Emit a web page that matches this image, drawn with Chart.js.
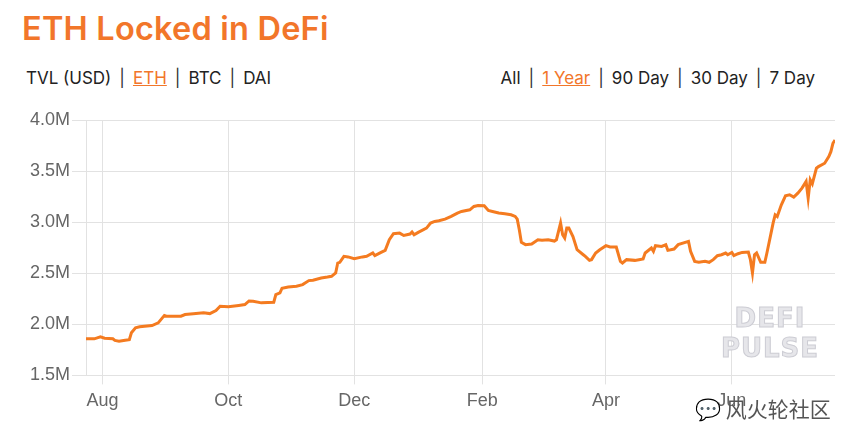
<!DOCTYPE html>
<html lang="en">
<head>
  <meta charset="UTF-8">
  <title>ETH Locked in DeFi</title>
  <style>
    html, body { margin: 0; padding: 0; background: #fff; }
    body { width: 858px; height: 429px; position: relative; overflow: hidden; font-family: Inter, "Noto Sans", sans-serif; }
    #chartBox { position: absolute; left: 0; top: 0; width: 858px; height: 429px; }
    h1 { position: absolute; left: 22px; top: 9px; margin: 0; font-size: 32.5px; font-weight: 600; color: #f2762a; letter-spacing: 0.2px; }
    .links { position: absolute; top: 68px; font-size: 17px; color: #222; white-space: nowrap; }
    .links .sep { color: #333; margin: 0 8px; }
    .links .on { color: #f2762a; text-decoration: underline; }
    #leftLinks { left: 26px; }
    #rightLinks { right: 43px; }
    .mark { position: absolute; left: 700px; width: 140px; text-align: center; font-family: "DejaVu Sans", sans-serif; font-weight: bold; font-size: 26px; color: #e6e6ea; -webkit-text-stroke: 1px #cdcdd4; letter-spacing: 1px; }
    #wechat { position: absolute; left: 695px; top: 393px; font-family: "Noto Sans CJK SC", sans-serif; font-size: 21px; color: #555; }
  </style>
</head>
<body>
  <h1>ETH Locked in DeFi</h1>
  <div class="links" id="leftLinks">TVL (USD)<span class="sep">|</span><span class="on">ETH</span><span class="sep">|</span>BTC<span class="sep">|</span>DAI</div>
  <div class="links" id="rightLinks">All<span class="sep">|</span><span class="on">1 Year</span><span class="sep">|</span>90 Day<span class="sep">|</span>30 Day<span class="sep">|</span>7 Day</div>

  <div id="chartBox"><canvas id="ethChart"></canvas></div>

  <div class="mark" style="top:303px;">DEFI</div>
  <div class="mark" style="top:333px;">PULSE</div>
  <div id="wechat">💬 风火轮社区</div>

  <script src="https://cdn.jsdelivr.net/npm/chart.js"></script>
  <script>
    // days counted from 1 Aug 2019
    const days = [-8, -4, -1, 1, 5, 6, 8, 11, 13, 14, 16, 18, 24, 27, 29, 30, 31, 38, 40, 44, 49, 52, 55,
      57, 61, 66, 69, 71, 73, 77, 83, 84, 86, 87, 90, 94, 97, 100, 102, 106, 109, 111, 113, 114, 115,
      117, 119, 122, 126, 128, 131, 132, 135, 137, 139, 141, 144, 146, 149, 150, 151, 153, 157, 159,
      161, 163, 166, 169, 172, 174, 178, 180, 182, 185, 187, 189, 192, 195, 198, 200, 201, 202, 203,
      205, 208, 211, 213, 216, 219, 220, 222, 223, 224, 225, 226, 228, 230, 233, 234, 236, 237, 239,
      241, 244, 246, 249, 251, 252, 254, 258, 260, 262, 263, 266, 267, 268, 271, 273, 274, 277, 279,
      284, 285, 287, 289, 292, 294, 296, 298, 300, 302, 303, 305, 306, 308, 310, 313, 314, 315, 316,
      317, 319, 321, 322, 324, 325, 326, 327, 329, 331, 333, 335, 337, 339, 341, 342, 343, 344, 346,
      347, 350, 352, 353, 354, 355];

    // ETH locked, millions
    const ethLocked = [1.858, 1.858, 1.877, 1.864, 1.858, 1.842, 1.835, 1.845, 1.85, 1.917, 1.966, 1.976, 1.988, 2.014, 2.063, 2.086, 2.08, 2.08, 2.096, 2.103, 2.112, 2.105, 2.135,
      2.177, 2.171, 2.184, 2.193, 2.229, 2.226, 2.21, 2.216, 2.291, 2.308, 2.353, 2.366, 2.373, 2.389, 2.428, 2.431, 2.454, 2.463, 2.47, 2.503, 2.6, 2.607,
      2.666, 2.66, 2.643, 2.66, 2.666, 2.698, 2.672, 2.704, 2.724, 2.828, 2.887, 2.893, 2.87, 2.884, 2.903, 2.877, 2.9, 2.942, 2.991,
      3.007, 3.014, 3.03, 3.056, 3.089, 3.105, 3.121, 3.154, 3.163, 3.16, 3.114, 3.105, 3.089, 3.082, 3.072, 3.056, 3.03, 2.926, 2.802,
      2.78, 2.786, 2.828, 2.822, 2.828, 2.815, 2.828, 2.991, 2.877, 2.845, 2.942, 2.942, 2.86, 2.73, 2.681, 2.665, 2.626, 2.633, 2.698,
      2.73, 2.77, 2.757, 2.757, 2.616, 2.6, 2.633, 2.626, 2.633, 2.64, 2.698, 2.747, 2.714, 2.77, 2.763, 2.78, 2.724, 2.737, 2.78,
      2.812, 2.714, 2.616, 2.607, 2.616, 2.607, 2.633, 2.672, 2.681, 2.698, 2.681, 2.704, 2.672, 2.691, 2.704, 2.708, 2.633, 2.503, 2.681,
      2.698, 2.607, 2.607, 2.698, 2.893, 2.991, 3.072, 3.056, 3.17, 3.258, 3.268, 3.245, 3.284, 3.333, 3.398, 3.235, 3.414, 3.375, 3.528,
      3.544, 3.577, 3.642, 3.69, 3.772, 3.805];

    const monthTicks = [0, 61, 122, 184, 244, 305];
    const monthLabels = ['Aug', 'Oct', 'Dec', 'Feb', 'Apr', 'Jun'];

    const points = days.map((d, i) => ({ x: d, y: ethLocked[i] }));

    const tickFont = { family: '"Liberation Sans", Arial, sans-serif', size: 18 };
    const ctx = document.getElementById('ethChart').getContext('2d');
    new Chart(ctx, {
      type: 'line',
      data: {
        datasets: [{
          label: 'ETH',
          data: points,
          borderColor: '#f47b20',
          borderWidth: 3,
          pointRadius: 0,
          tension: 0,
          fill: false
        }]
      },
      options: {
        responsive: true,
        maintainAspectRatio: false,
        animation: false,
        layout: { padding: { top: 120, right: 23, bottom: 11, left: 0 } },
        plugins: { legend: { display: false }, tooltip: { enabled: false } },
        scales: {
          x: {
            type: 'linear',
            min: -8,
            max: 355,
            afterBuildTicks: scale => { scale.ticks = monthTicks.map(v => ({ value: v })); },
            ticks: {
              font: tickFont,
              color: '#666',
              padding: 6,
              maxRotation: 0,
              callback: v => monthLabels[monthTicks.indexOf(v)]
            },
            grid: { color: '#e2e2e2', tickLength: 9 },
            border: { display: false }
          },
          y: {
            min: 1.5,
            max: 4.0,
            afterFit: scale => { scale.width = 86; },
            ticks: {
              stepSize: 0.5,
              font: tickFont,
              color: '#666',
              padding: 2,
              callback: v => v.toFixed(1) + 'M'
            },
            grid: { color: '#e2e2e2', tickLength: 14 },
            border: { display: true, color: '#e2e2e2' }
          }
        }
      }
    });
  </script>
</body>
</html>
